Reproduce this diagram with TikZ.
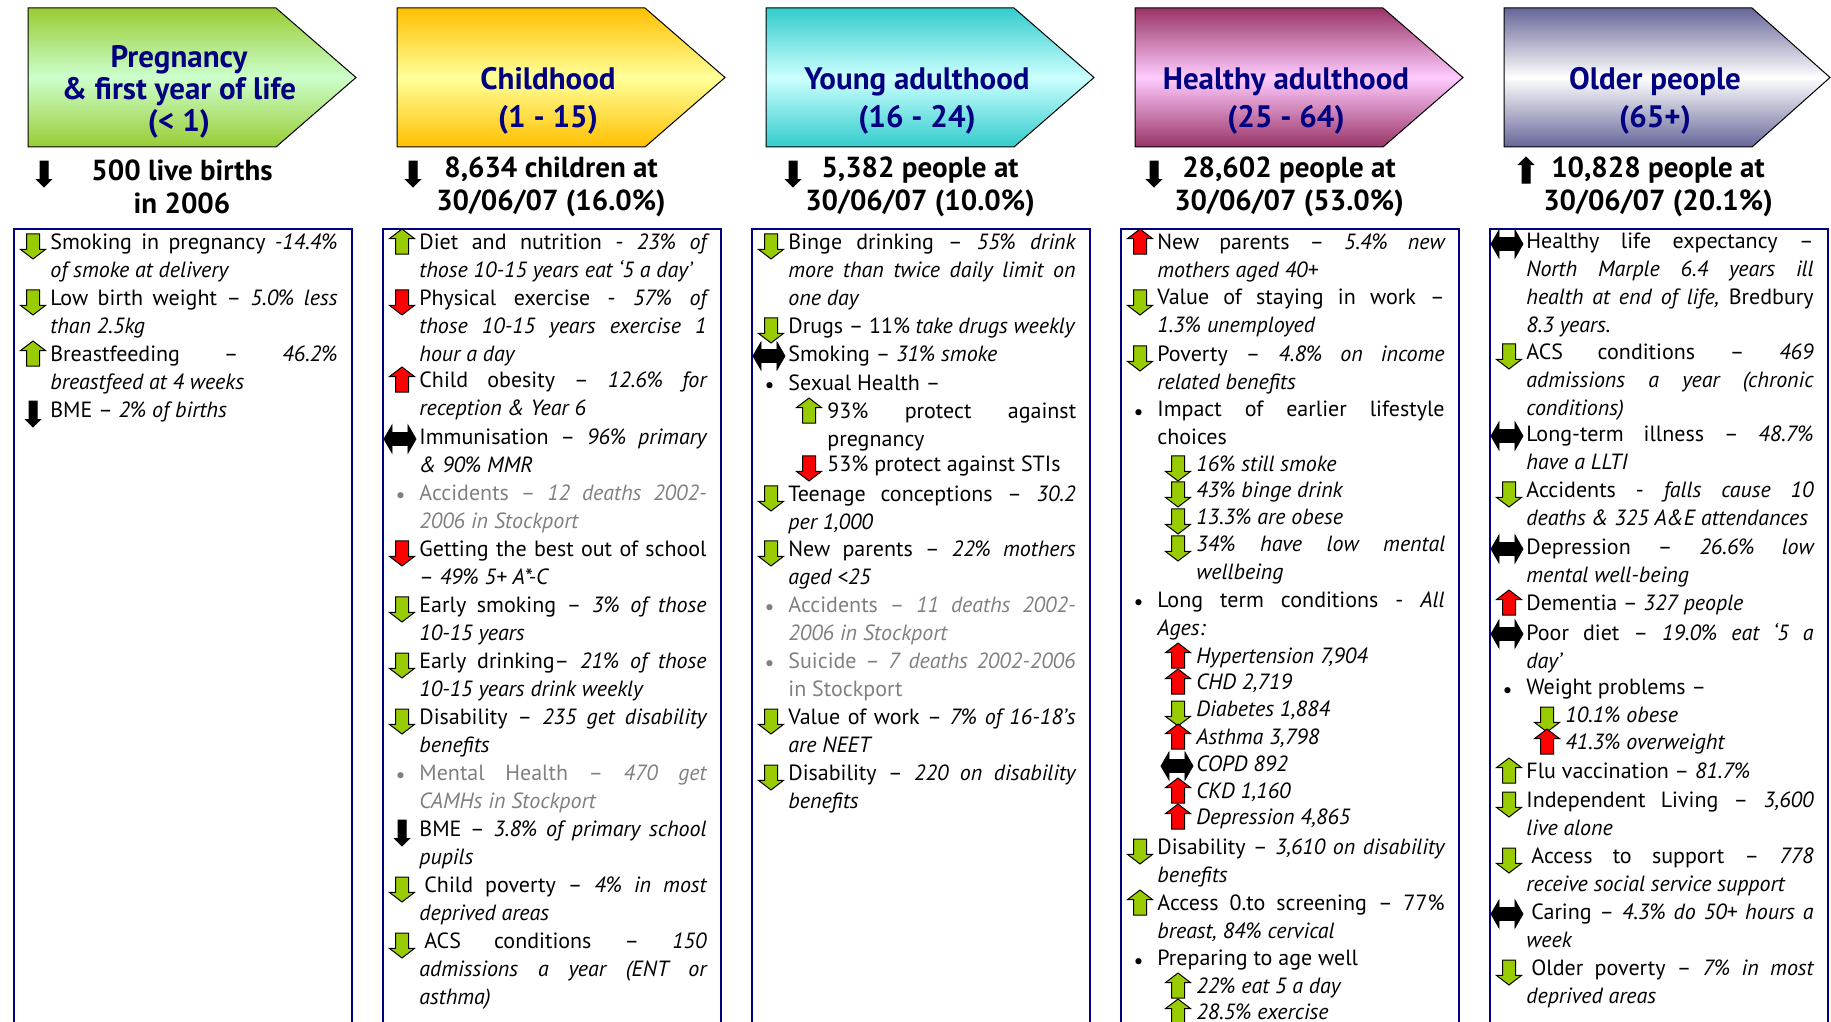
\documentclass[tikz,border=0pt]{standalone}
\usepackage{fontspec}
\setmainfont{PT Sans}
\usepackage{tikz}
\usetikzlibrary{shapes.arrows}
\definecolor{navy}{HTML}{000080}
\definecolor{icongreen}{HTML}{99CC00}
\definecolor{iconred}{HTML}{FF0000}
\definecolor{greytext}{HTML}{808080}
\definecolor{hdgreen}{HTML}{99CC33}
\definecolor{hdgreenlt}{HTML}{CCFFCC}
\definecolor{hdgold}{HTML}{FFC000}
\definecolor{hdgoldlt}{HTML}{FFFF99}
\definecolor{hdteal}{HTML}{33CCCC}
\definecolor{hdteallt}{HTML}{CCFFFF}
\definecolor{hdplum}{HTML}{993366}
\definecolor{hdplumlt}{HTML}{FFCCFF}
\definecolor{hdslate}{HTML}{666699}
\tolerance=10000
\hbadness=10000
\hyphenpenalty=10000
\tikzstyle{heading}=[draw=black, line width=0.5pt]
\tikzstyle{panel}=[draw=navy, line width=1pt]
\tikzstyle{title}=[align=center, inner sep=0pt, text=navy, font=\bfseries\fontsize{15.5}{16}\selectfont]
\tikzstyle{count}=[align=center, inner sep=0pt, font=\bfseries\fontsize{14.5}{16.3}\selectfont]
\tikzstyle{entry}=[anchor=north west, inner sep=0pt, yshift=-2.5pt, text width=143.6pt, align=justify, font=\fontsize{11}{14}\selectfont]
\tikzstyle{subentry}=[entry, text width=124.4pt]
\tikzstyle{greyentry}=[entry, text=greytext]
\tikzstyle{dot}=[inner sep=0pt, yshift=-2.5pt, font=\fontsize{11}{14}\selectfont]
\tikzstyle{trend}=[single arrow, draw=black, line width=0.5pt, inner sep=3pt, minimum height=12.5pt, minimum width=12pt, single arrow head extend=3pt, single arrow tip angle=105]
\tikzstyle{downgood}=[trend, fill=icongreen, rotate=-90]
\tikzstyle{upgood}=[trend, fill=icongreen, rotate=90]
\tikzstyle{downbad}=[trend, fill=iconred, rotate=-90]
\tikzstyle{upbad}=[trend, fill=iconred, rotate=90]
\tikzstyle{downblack}=[trend, fill=black, rotate=-90, inner sep=1.75pt, minimum height=13pt, minimum width=7pt, single arrow head extend=1.75pt, single arrow tip angle=90]
\tikzstyle{upblack}=[downblack, rotate=180]
\tikzstyle{level}=[double arrow, draw=black, fill=black, inner sep=3pt, minimum height=16pt, minimum width=13.5pt, double arrow head extend=3.75pt, double arrow tip angle=120]

\begin{document}
\begin{tikzpicture}[x=0.5pt, y=-0.5pt]
\useasboundingbox (0,0) rectangle (1831,1022);
\path[heading, top color=hdgreen, bottom color=hdgreen, middle color=hdgreenlt] (28,8) -- (276,8) -- (356,77.5) -- (276,147) -- (28,147) -- cycle;
\path[heading, top color=hdgold, bottom color=hdgold, middle color=hdgoldlt] (397,8) -- (645,8) -- (725,77.5) -- (645,147) -- (397,147) -- cycle;
\path[heading, top color=hdteal, bottom color=hdteal, middle color=hdteallt] (766,8) -- (1014,8) -- (1094,77.5) -- (1014,147) -- (766,147) -- cycle;
\path[heading, top color=hdplum, bottom color=hdplum, middle color=hdplumlt] (1135,8) -- (1383,8) -- (1463,77.5) -- (1383,147) -- (1135,147) -- cycle;
\path[heading, top color=hdslate, bottom color=hdslate, middle color=white] (1504,8) -- (1752,8) -- (1830,77.5) -- (1752,147) -- (1504,147) -- cycle;
\node[title] (t1) at (179,92) {Pregnancy\\\& first year of life\\(< 1)};
\node[title] (t2) at (548,101) {Childhood\\[3.25pt](1 - 15)};
\node[title] (t3) at (917,101) {Young adulthood\\[3.25pt](16 - 24)};
\node[title] (t4) at (1286,101) {Healthy adulthood\\[3.25pt](25 - 64)};
\node[title] (t5) at (1655,101) {Older people\\[3.25pt](65+)};
\node[downblack] (p1i) at (44,172) {};
\node[count] (p1) at (182,187) {500 live births\\in 2006};
\node[downblack] (p2i) at (413,172) {};
\node[count] (p2) at (551,187) {8,634 children at\\30/06/07 (16.0\%)};
\node[downblack] (p3i) at (793,172) {};
\node[count] (p3) at (920,187) {5,382 people at\\30/06/07 (10.0\%)};
\node[downblack] (p4i) at (1154,172) {};
\node[count] (p4) at (1289,187) {28,602 people at\\30/06/07 (53.0\%)};
\node[upblack] (p5i) at (1526,172) {};
\node[count] (p5) at (1658,187) {10,828 people at\\30/06/07 (20.1\%)};
\draw[panel] (14,1030) -- (14,229) -- (351.5,229) -- (351.5,1030);
\draw[panel] (383,1030) -- (383,229) -- (720.5,229) -- (720.5,1030);
\draw[panel] (752,1030) -- (752,229) -- (1089.5,229) -- (1089.5,1030);
\draw[panel] (1121,1030) -- (1121,229) -- (1458.5,229) -- (1458.5,1030);
\draw[panel] (1490,1030) -- (1490,229) -- (1827.5,229) -- (1827.5,1030);

\node[downgood] (c1ai) at (33,244) {};
\node[entry] (c1a) at (50,228) {Smoking in pregnancy \textit{-14.4\%\linebreak of smoke at delivery}};
\node[downgood] (c1bi) at (33,300) {};
\node[entry] (c1b) at (50,284) {Low birth weight – \textit{5.0\% less\linebreak than 2.5kg}};
\node[upgood] (c1ci) at (33,356) {};
\node[entry] (c1c) at (50,340) {Breastfeeding – \textit{46.2\%\linebreak breastfeed at 4 weeks}};
\node[downblack] (c1di) at (33,412) {};
\node[entry] (c1d) at (50,396) {BME – \textit{2\% of births}};

\node[upgood] (c2ai) at (402,244) {};
\node[entry] (c2a) at (419,228) {Diet and nutrition - \textit{23\% of\linebreak those 10-15 years eat ‘5 a day’}};
\node[downbad] (c2bi) at (402,300) {};
\node[entry] (c2b) at (419,284) {Physical exercise - \textit{57\% of\linebreak those 10-15 years exercise 1\linebreak hour a day}};
\node[upbad] (c2ci) at (402,382) {};
\node[entry] (c2c) at (419,366) {Child obesity – \textit{12.6\% for\linebreak reception \& Year 6}};
\node[level] (c2di) at (400,439) {};
\node[entry] (c2d) at (419,423) {Immunisation – \textit{96\% primary\linebreak \& 90\% MMR}};
\node[dot, text=greytext] (c2eb) at (400.5,493) {\textbullet};
\node[greyentry] (c2e) at (419,479) {Accidents – \textit{12 deaths 2002-\linebreak 2006 in Stockport}};
\node[downbad] (c2fi) at (402,551) {};
\node[entry] (c2f) at (419,535) {Getting the best out of school\linebreak – \textit{49\% 5+ A*-C}};
\node[downgood] (c2gi) at (402,607) {};
\node[entry] (c2g) at (419,591) {Early smoking – \textit{3\% of those\linebreak 10-15 years}};
\node[downgood] (c2hi) at (402,663) {};
\node[entry] (c2h) at (419,647) {Early drinking– \textit{21\% of those\linebreak 10-15 years drink weekly}};
\node[downgood] (c2ii) at (402,719) {};
\node[entry] (c2i) at (419,703) {Disability – \textit{235 get disability\linebreak benefits}};
\node[dot, text=greytext] (c2jb) at (400.5,773) {\textbullet};
\node[greyentry] (c2j) at (419,759) {Mental Health – \textit{470 get\linebreak CAMHs in Stockport}};
\node[downblack] (c2ki) at (402,831) {};
\node[entry] (c2k) at (419,815) {BME – \textit{3.8\% of primary school\linebreak pupils}};
\node[downgood] (c2li) at (402,887) {};
\node[entry] (c2l) at (419,871) {\hspace{2.5pt}Child poverty – \textit{4\% in most\linebreak deprived areas}};
\node[downgood] (c2mi) at (402,943) {};
\node[entry] (c2m) at (419,927) {\hspace{2.5pt}ACS conditions – \textit{150\linebreak admissions a year (ENT or\linebreak asthma)}};

\node[downgood] (c3ai) at (771,244) {};
\node[entry] (c3a) at (788,228) {Binge drinking – \textit{55\% drink\linebreak more than twice daily limit on\linebreak one day}};
\node[downgood] (c3bi) at (771,328) {};
\node[entry] (c3b) at (788,312) {Drugs – 11\% \textit{take drugs weekly}};
\node[level] (c3ci) at (769,356) {};
\node[entry] (c3c) at (788,340) {Smoking – \textit{31\% smoke}};
\node[dot] (c3db) at (769.5,383) {\textbullet};
\node[entry] (c3d) at (788,369) {Sexual Health –};
\node[upgood] (c3ei) at (809,413) {};
\node[subentry] (c3e) at (827,397) {93\% protect against\linebreak pregnancy};
\node[downbad] (c3fi) at (809,466) {};
\node[subentry] (c3f) at (827,450) {53\% protect against STIs};
\node[downgood] (c3gi) at (771,496) {};
\node[entry] (c3g) at (788,480) {Teenage conceptions – \textit{30.2\linebreak per 1,000}};
\node[downgood] (c3hi) at (771,551) {};
\node[entry] (c3h) at (788,535) {New parents – \textit{22\% mothers\linebreak aged <25}};
\node[dot, text=greytext] (c3ib) at (769.5,605) {\textbullet};
\node[greyentry] (c3i) at (788,591) {Accidents – \textit{11 deaths 2002-\linebreak 2006 in Stockport}};
\node[dot, text=greytext] (c3jb) at (769.5,661) {\textbullet};
\node[greyentry] (c3j) at (788,647) {Suicide – \textit{7 deaths 2002-2006}\linebreak in Stockport};
\node[downgood] (c3ki) at (771,719) {};
\node[entry] (c3k) at (788,703) {Value of work – \textit{7\% of 16-18’s\linebreak are NEET}};
\node[downgood] (c3li) at (771,775) {};
\node[entry] (c3l) at (788,759) {Disability – \textit{220 on disability\linebreak benefits}};

\node[upbad] (c4ai) at (1140,244) {};
\node[entry] (c4a) at (1157,228) {New parents – \textit{5.4\% new\linebreak mothers aged 40+}};
\node[downgood] (c4bi) at (1140,300) {};
\node[entry] (c4b) at (1157,284) {Value of staying in work –\linebreak \textit{1.3\% unemployed}};
\node[downgood] (c4ci) at (1140,356) {};
\node[entry] (c4c) at (1157,340) {Poverty – \textit{4.8\% on income\linebreak related benefits}};
\node[dot] (c4db) at (1138.5,410) {\textbullet};
\node[entry] (c4d) at (1157,396) {Impact of earlier lifestyle\linebreak choices};
\node[downgood] (c4ei) at (1178,466) {};
\node[subentry] (c4e) at (1196,450) {\textit{16\% still smoke}};
\node[downgood] (c4fi) at (1178,492) {};
\node[subentry] (c4f) at (1196,476) {\textit{43\% binge drink}};
\node[downgood] (c4gi) at (1178,519) {};
\node[subentry] (c4g) at (1196,503) {\textit{13.3\% are obese}};
\node[downgood] (c4hi) at (1178,546) {};
\node[subentry] (c4h) at (1196,530) {\textit{34\% have low mental\linebreak wellbeing}};
\node[dot] (c4ib) at (1138.5,600) {\textbullet};
\node[entry] (c4i) at (1157,586) {Long term conditions - \textit{All\linebreak Ages:}};
\node[upbad] (c4ji) at (1178,658) {};
\node[subentry] (c4j) at (1196,642) {\textit{Hypertension 7,904}};
\node[upbad] (c4ki) at (1178,684) {};
\node[subentry] (c4k) at (1196,668) {\textit{CHD 2,719}};
\node[downgood] (c4li) at (1178,711) {};
\node[subentry] (c4l) at (1196,695) {\textit{Diabetes 1,884}};
\node[upbad] (c4mi) at (1178,739) {};
\node[subentry] (c4m) at (1196,723) {\textit{Asthma 3,798}};
\node[level] (c4ni) at (1177,766) {};
\node[subentry] (c4n) at (1196,750) {\textit{COPD 892}};
\node[upbad] (c4oi) at (1178,793) {};
\node[subentry] (c4o) at (1196,777) {\textit{CKD 1,160}};
\node[upbad] (c4pi) at (1178,819) {};
\node[subentry] (c4p) at (1196,803) {\textit{Depression 4,865}};
\node[downgood] (c4qi) at (1140,849) {};
\node[entry] (c4q) at (1157,833) {Disability – \textit{3,610 on disability\linebreak benefits}};
\node[upgood] (c4ri) at (1140,905) {};
\node[entry] (c4r) at (1157,889) {Access 0.to screening – 77\%\linebreak \textit{breast, 84\% cervical}};
\node[dot] (c4sb) at (1138.5,959) {\textbullet};
\node[entry] (c4s) at (1157,945) {Preparing to age well};
\node[upgood] (c4ti) at (1178,988) {};
\node[subentry] (c4t) at (1196,972) {\textit{22\% eat 5 a day}};
\node[upgood] (c4ui) at (1178,1014) {};
\node[subentry] (c4u) at (1196,998) {\textit{28.5\% exercise}};

\node[level] (c5ai) at (1507,244) {};
\node[entry] (c5a) at (1526,228) {Healthy life expectancy –\linebreak \textit{North Marple 6.4 years ill\linebreak health at end of life,} Bredbury\linebreak \textit{8.3 years.}};
\node[downgood] (c5bi) at (1509,354) {};
\node[entry] (c5b) at (1526,338) {ACS conditions – \textit{469\linebreak admissions a year (chronic\linebreak conditions)}};
\node[level] (c5ci) at (1507,436) {};
\node[entry] (c5c) at (1526,420) {Long-term illness – \textit{48.7\%\linebreak have a LLTI}};
\node[downgood] (c5di) at (1509,492) {};
\node[entry] (c5d) at (1526,476) {Accidents - \textit{falls cause 10\linebreak deaths \& 325 A\&E attendances}};
\node[level] (c5ei) at (1507,549) {};
\node[entry] (c5e) at (1526,533) {Depression – \textit{26.6\% low\linebreak mental well-being}};
\node[upbad] (c5fi) at (1509,605) {};
\node[entry] (c5f) at (1526,589) {Dementia – \textit{327 people}};
\node[level] (c5gi) at (1507,634) {};
\node[entry] (c5g) at (1526,618) {Poor diet – \textit{19.0\% eat ‘5 a\linebreak day’}};
\node[dot] (c5hb) at (1507.5,688) {\textbullet};
\node[entry] (c5h) at (1526,674) {Weight problems –};
\node[downgood] (c5ii) at (1547,717) {};
\node[subentry] (c5i) at (1565,701) {\textit{10.1\% obese}};
\node[upbad] (c5ji) at (1547,744) {};
\node[subentry] (c5j) at (1565,728) {\textit{41.3\% overweight}};
\node[upgood] (c5ki) at (1509,773) {};
\node[entry] (c5k) at (1526,757) {Flu vaccination – \textit{81.7\%}};
\node[downgood] (c5li) at (1509,802) {};
\node[entry] (c5l) at (1526,786) {Independent Living – \textit{3,600\linebreak live alone}};
\node[downgood] (c5mi) at (1509,858) {};
\node[entry] (c5m) at (1526,842) {\hspace{2.5pt}Access to support – \textit{778\linebreak receive social service support}};
\node[level] (c5ni) at (1507,914) {};
\node[entry] (c5n) at (1526,898) {\hspace{2.5pt}Caring – \textit{4.3\% do 50+ hours a\linebreak week}};
\node[downgood] (c5oi) at (1509,970) {};
\node[entry] (c5o) at (1526,954) {\hspace{2.5pt}Older poverty – \textit{7\% in most\linebreak deprived areas}};
\end{tikzpicture}
\end{document}
